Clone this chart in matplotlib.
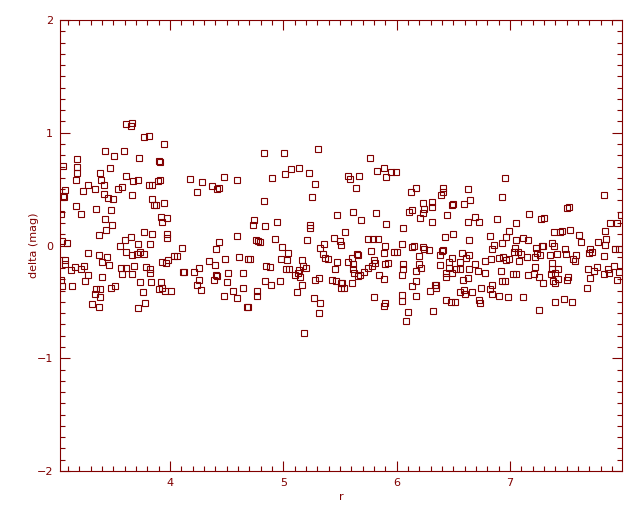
import matplotlib
matplotlib.use("Agg")
import matplotlib.pyplot as plt
from matplotlib.ticker import MultipleLocator

# r values and delta (mag) values
r_vals = [
    3.614, 3.664, 3.659, 3.773, 3.817, 3.429, 3.508, 3.597, 3.729, 3.056,
    3.182, 3.182, 3.182, 3.173, 3.385, 3.473, 3.394, 3.420, 3.279, 3.235,
    3.341, 3.076, 3.056, 3.064, 3.614, 3.670, 3.717, 3.579, 3.544, 3.420,
    3.456, 3.500, 3.667, 3.817, 3.841, 3.841, 3.862, 3.173, 3.217, 3.350,
    3.482, 3.035, 3.429, 3.491, 3.438, 3.376, 3.773, 3.841, 3.659, 3.606,
    3.561, 3.614, 3.720, 3.826, 3.050, 3.091, 3.279, 3.376, 3.447, 3.403,
    3.464, 3.667, 3.706, 3.738, 3.773, 3.076, 3.076, 3.129, 3.164, 3.217,
    3.244, 3.279, 3.403, 3.570, 3.579, 3.614, 3.667, 3.685, 3.791, 3.826,
    3.826, 3.253, 3.041, 3.050, 3.138, 3.738, 3.835, 3.482, 3.517, 3.350,
    3.385, 3.341, 3.385, 3.764, 3.314, 3.376, 3.782, 3.720,
    # column 2
    3.950, 3.906, 3.915, 3.915, 3.894, 4.179, 4.285, 4.241, 4.373, 4.417,
    4.432, 4.479, 4.594, 3.950, 3.879, 3.923, 3.932, 3.976, 3.976, 3.976,
    4.109, 4.594, 4.435, 4.409, 4.038, 4.065, 3.985, 3.932, 3.967, 4.347,
    4.400, 4.488, 4.612, 4.688, 4.117, 4.123, 4.214, 4.259, 4.409, 4.412,
    4.391, 4.514, 4.647, 4.259, 4.241, 4.276, 4.506, 3.923, 3.906, 3.932,
    3.959, 4.012, 4.559, 4.647, 4.479, 4.594, 4.682,
    # column 3
    4.833, 5.009, 5.309, 5.071, 5.142, 5.018, 5.230, 4.903, 5.283, 4.833,
    5.256, 5.477, 4.745, 4.736, 4.842, 4.947, 5.239, 5.239, 4.762, 4.780,
    4.797, 4.930, 5.212, 4.992, 5.045, 5.450, 5.503, 5.512, 5.362, 5.327,
    5.353, 5.371, 5.398, 4.709, 4.983, 5.036, 5.168, 4.850, 4.886, 5.027,
    5.053, 5.142, 5.177, 5.203, 5.477, 5.459, 5.106, 5.150, 5.133, 4.842,
    4.895, 4.974, 5.168, 5.283, 5.318, 5.433, 5.468, 5.512, 4.771, 4.771,
    5.124, 4.692, 5.274, 5.327, 5.318, 5.186, 5.512,
    # column 4
    5.768, 5.892, 5.830, 5.953, 5.998, 5.909, 5.574, 5.592, 5.671, 5.645,
    6.130, 6.174, 6.236, 6.315, 6.315, 6.139, 6.112, 6.245, 6.236, 6.209,
    6.315, 5.618, 5.689, 5.821, 5.909, 6.059, 5.547, 5.750, 5.795, 5.839,
    6.050, 5.900, 6.139, 6.156, 6.236, 6.245, 6.289, 5.777, 5.892, 5.980,
    6.006, 5.653, 5.662, 6.200, 5.609, 5.574, 5.618, 5.618, 5.627, 5.803,
    5.812, 5.786, 5.750, 5.715, 5.662, 5.680, 5.900, 5.927, 6.059, 6.059,
    6.050, 6.200, 6.218, 6.174, 5.847, 5.892, 5.609, 5.521, 5.539, 6.174,
    6.139, 6.342, 6.298, 6.174, 6.050, 6.050, 5.803, 5.900, 5.892, 6.103,
    6.086, 6.324,
    # column 5
    6.959, 6.933, 6.633, 6.412, 6.412, 6.395, 6.651, 6.598, 6.501, 6.492,
    6.448, 6.695, 6.633, 6.730, 6.889, 7.056, 7.171, 6.430, 6.501, 6.642,
    6.827, 6.995, 6.968, 6.862, 6.845, 6.933, 7.056, 7.118, 7.162, 7.048,
    6.412, 6.403, 6.386, 6.492, 6.580, 6.615, 6.642, 6.783, 6.836, 6.906,
    6.942, 6.968, 6.995, 7.039, 7.074, 7.101, 7.154, 7.083, 6.465, 6.386,
    6.465, 6.527, 6.562, 6.562, 6.642, 6.695, 6.721, 6.783, 6.439, 6.439,
    6.492, 6.589, 6.633, 6.924, 7.030, 7.056, 6.933, 6.959, 7.162, 6.351,
    6.351, 6.562, 6.598, 6.606, 6.668, 6.748, 6.827, 6.845, 6.845, 6.906,
    6.986, 7.118, 6.439, 6.483, 6.518, 6.730, 6.739,
    # column 6
    7.834, 7.507, 7.525, 7.278, 7.304, 7.886, 7.948, 7.984, 7.842, 7.851,
    7.842, 7.781, 7.931, 7.966, 7.834, 7.392, 7.445, 7.463, 7.534, 7.613,
    7.631, 7.375, 7.392, 7.286, 7.295, 7.234, 7.489, 7.498, 7.419, 7.357,
    7.242, 7.269, 7.225, 7.560, 7.578, 7.587, 7.710, 7.701, 7.728, 7.375,
    7.375, 7.428, 7.225, 7.216, 7.260, 7.295, 7.366, 7.401, 7.384, 7.401,
    7.428, 7.507, 7.516, 7.692, 7.710, 7.772, 7.745, 7.834, 7.869, 7.878,
    7.922, 7.966, 7.948, 7.684, 7.401, 7.481, 7.551, 7.260,
]

delta_vals = [
    1.075, 1.089, 1.063, 0.959, 0.968, 0.835, 0.791, 0.835, 0.773, 0.702,
    0.764, 0.693, 0.640, 0.581, 0.640, 0.684, 0.581, 0.534, 0.534, 0.480,
    0.498, 0.489, 0.439, 0.427, 0.614, 0.572, 0.578, 0.516, 0.501, 0.454,
    0.418, 0.410, 0.445, 0.534, 0.540, 0.410, 0.359, 0.347, 0.276, 0.321,
    0.312, 0.276, 0.232, 0.179, 0.135, 0.090, 0.117, 0.099, 0.073, 0.046,
    -0.007, -0.060, 0.010, 0.010, 0.037, 0.019, -0.069, -0.087, -0.105, -0.149,
    -0.176, -0.087, -0.078, -0.060, -0.078, -0.132, -0.167, -0.220, -0.194, -0.211,
    -0.185, -0.265, -0.282, -0.203, -0.256, -0.203, -0.256, -0.185, -0.194, -0.247,
    -0.211, -0.318, -0.309, -0.362, -0.362, -0.327, -0.327, -0.380, -0.362, -0.389,
    -0.389, -0.433, -0.460, -0.415, -0.522, -0.548, -0.513, -0.557,
    # column 2
    0.897, 0.747, 0.740, 0.578, 0.569, 0.587, 0.560, 0.472, 0.525, 0.498,
    0.513, 0.605, 0.578, 0.374, 0.356, 0.250, 0.205, 0.241, 0.105, 0.070,
    -0.025, 0.081, 0.028, -0.034, -0.096, -0.096, -0.132, -0.149, -0.158, -0.140,
    -0.176, -0.123, -0.105, -0.123, -0.232, -0.238, -0.238, -0.202, -0.262, -0.268,
    -0.309, -0.247, -0.247, -0.309, -0.353, -0.398, -0.327, -0.327, -0.389, -0.380,
    -0.406, -0.406, -0.406, -0.380, -0.451, -0.468, -0.548,
    # column 3
    0.817, 0.817, 0.853, 0.676, 0.685, 0.631, 0.640, 0.596, 0.543, 0.392,
    0.427, 0.268, 0.223, 0.179, 0.170, 0.205, 0.179, 0.152, 0.046, 0.037,
    0.028, 0.055, 0.046, -0.016, -0.069, 0.064, 0.037, 0.002, 0.010, -0.025,
    -0.078, -0.114, -0.123, -0.123, -0.123, -0.132, -0.132, -0.185, -0.194, -0.211,
    -0.211, -0.220, -0.185, -0.203, -0.149, -0.211, -0.265, -0.282, -0.247, -0.318,
    -0.353, -0.318, -0.353, -0.309, -0.291, -0.309, -0.318, -0.335, -0.406, -0.451,
    -0.415, -0.548, -0.468, -0.513, -0.602, -0.779, -0.380,
    # column 4
    0.773, 0.685, 0.658, 0.649, 0.649, 0.605, 0.614, 0.587, 0.614, 0.507,
    0.472, 0.507, 0.374, 0.383, 0.339, 0.312, 0.294, 0.321, 0.285, 0.241,
    0.206, 0.294, 0.223, 0.285, 0.188, 0.152, 0.117, 0.055, 0.055, 0.055,
    0.010, -0.007, -0.016, -0.007, -0.016, -0.034, -0.043, -0.052, -0.069, -0.060,
    -0.060, -0.078, -0.087, -0.096, -0.114, -0.149, -0.167, -0.211, -0.247, -0.132,
    -0.158, -0.185, -0.203, -0.238, -0.273, -0.265, -0.167, -0.158, -0.167, -0.211,
    -0.265, -0.167, -0.203, -0.229, -0.265, -0.300, -0.335, -0.335, -0.380, -0.318,
    -0.362, -0.353, -0.406, -0.451, -0.442, -0.495, -0.460, -0.513, -0.540, -0.593,
    -0.673, -0.584,
    # column 5
    0.596, 0.427, 0.498, 0.507, 0.472, 0.445, 0.401, 0.365, 0.365, 0.357,
    0.268, 0.250, 0.205, 0.205, 0.232, 0.197, 0.276, 0.073, 0.099, 0.046,
    0.081, 0.126, 0.073, 0.002, -0.034, 0.019, 0.046, 0.064, 0.046, -0.025,
    -0.043, -0.052, -0.087, -0.114, -0.069, -0.114, -0.087, -0.140, -0.123, -0.114,
    -0.105, -0.132, -0.123, -0.060, -0.060, -0.078, -0.105, -0.140, -0.149, -0.176,
    -0.203, -0.211, -0.211, -0.149, -0.211, -0.167, -0.229, -0.247, -0.247, -0.282,
    -0.247, -0.309, -0.291, -0.229, -0.256, -0.256, -0.318, -0.318, -0.265, -0.353,
    -0.380, -0.415, -0.398, -0.433, -0.415, -0.380, -0.389, -0.353, -0.433, -0.451,
    -0.460, -0.460, -0.486, -0.504, -0.504, -0.486, -0.513,
    # column 6
    0.445, 0.330, 0.339, 0.232, 0.241, 0.197, 0.197, 0.268, 0.126, 0.055,
    0.002, 0.028, -0.034, -0.034, -0.096, 0.117, 0.117, 0.126, 0.135, 0.090,
    0.028, 0.019, -0.007, -0.007, -0.002, -0.025, -0.034, -0.078, -0.078, -0.087,
    -0.069, -0.087, -0.105, -0.123, -0.140, -0.087, -0.034, -0.069, -0.060, -0.158,
    -0.211, -0.211, -0.194, -0.256, -0.282, -0.335, -0.256, -0.247, -0.318, -0.335,
    -0.300, -0.309, -0.282, -0.211, -0.291, -0.194, -0.229, -0.256, -0.211, -0.247,
    -0.185, -0.238, -0.309, -0.380, -0.504, -0.478, -0.504, -0.575,
]

x_major_ticks = [4, 5, 6, 7]
y_major_ticks = [-2, -1, 0, 1, 2]
y_tick_labels = ["\u22122", "\u22121", "0", "1", "2"]

col = "#800000"

fig = plt.figure(figsize=(6.4, 5.12), dpi=100)
ax = fig.add_axes([0.09375, 0.0800, 0.878, 0.881])

ax.plot(r_vals, delta_vals, linestyle="none", marker="s", markersize=4.8,
        markerfacecolor="none", markeredgecolor=col, markeredgewidth=0.8)

ax.set_xlim(3.029, 7.989)
ax.set_ylim(-2, 2)
ax.set_xticks(x_major_ticks)
ax.set_yticks(y_major_ticks)
ax.set_yticklabels(y_tick_labels)
ax.xaxis.set_minor_locator(MultipleLocator(0.1))
ax.yaxis.set_minor_locator(MultipleLocator(0.1))
ax.tick_params(which="both", direction="in", top=True, right=True,
               colors=col, labelsize=8, width=0.8)
ax.tick_params(which="major", length=7.5, pad=5)
ax.tick_params(which="minor", length=3.8)
for sp in ax.spines.values():
    sp.set_color(col)
    sp.set_linewidth(0.8)

ax.set_xlabel("r", color=col, fontsize=8, labelpad=3)
ax.set_ylabel("delta (mag)", color=col, fontsize=8, labelpad=-2)

fig.savefig("out.png", dpi=100)
